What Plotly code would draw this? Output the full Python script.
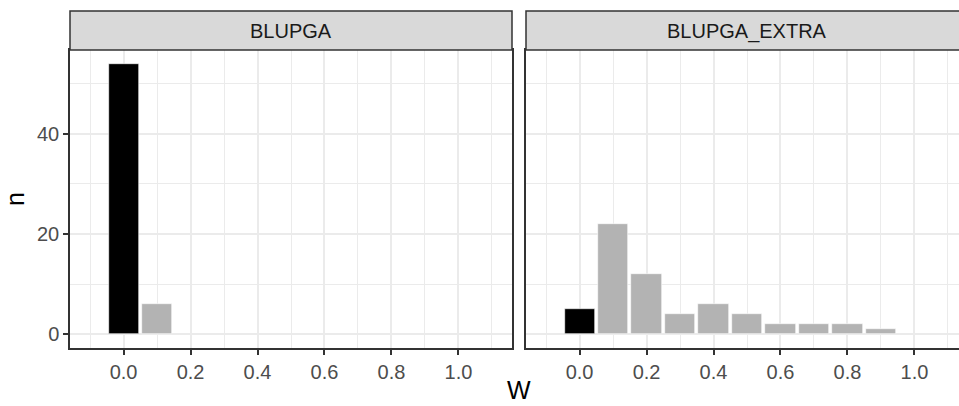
import plotly.graph_objects as go

# ---- data ----
panels = ["BLUPGA", "BLUPGA_EXTRA"]
blupga_w = [0.0, 0.1]
blupga_n = [54, 6]
extra_w = [0.0, 0.1, 0.2, 0.3, 0.4, 0.5, 0.6, 0.7, 0.8, 0.9]
extra_n = [5, 22, 12, 4, 6, 4, 2, 2, 2, 1]
x_ticks = [0.0, 0.2, 0.4, 0.6, 0.8, 1.0]
x_tick_labels = ["0.0", "0.2", "0.4", "0.6", "0.8", "1.0"]
y_ticks = [0, 20, 40]
y_tick_labels = ["0", "20", "40"]

W, H = 959, 406
FONT = "Liberation Sans, Arial, sans-serif"
GRID = "#EBEBEB"
BORDER = "#333333"
GRAY = "#B3B3B3"
TICK_SIZE = 20
TITLE_SIZE = 25


def colors(ws):
    return ["#000000" if w == 0 else GRAY for w in ws]


fig = go.Figure()
fig.add_trace(go.Bar(x=blupga_w, y=blupga_n, width=0.09, marker=dict(color=colors(blupga_w), line=dict(color="#FFFFFF", width=0.6)),
                     xaxis="x", yaxis="y", showlegend=False))
fig.add_trace(go.Bar(x=extra_w, y=extra_n, width=0.09, marker=dict(color=colors(extra_w), line=dict(color="#FFFFFF", width=0.6)),
                     xaxis="x2", yaxis="y2", showlegend=False))

# pixel geometry
L1, R1 = 70, 512
L2 = 526
TOP, BOT = 50, 348
STRIP_TOP = 11


def px(x):
    return x / W


def py(y):
    return (H - y) / H


xrange_ = [-0.16, 1.16]
pxu = (R1 - L1) / (xrange_[1] - xrange_[0])
x2_right = xrange_[0] + (W - L2) / pxu
yrange = [-2.7, 56.7]

common_x = dict(
    tickvals=x_ticks, ticktext=x_tick_labels, showgrid=True, gridcolor=GRID, gridwidth=2,
    zeroline=False, ticks="outside", ticklen=5, tickwidth=1.5, tickcolor=BORDER,
    tickfont=dict(family=FONT, size=TICK_SIZE, color="#4D4D4D"), showline=True, linecolor=BORDER,
    linewidth=1.5, mirror=True,
    minor=dict(tickvals=[-0.1, 0.1, 0.3, 0.5, 0.7, 0.9, 1.1], showgrid=True, gridcolor=GRID, gridwidth=1, ticks=""),
)
common_y = dict(
    range=yrange, showgrid=True, gridcolor=GRID, gridwidth=2, zeroline=False,
    minor=dict(tickvals=[10, 30, 50], showgrid=True, gridcolor=GRID, gridwidth=1, ticks=""),
    showline=True, linecolor=BORDER, linewidth=1.5,
)

fig.update_layout(
    width=W, height=H, margin=dict(l=0, r=0, t=0, b=0),
    paper_bgcolor="white", plot_bgcolor="white", bargap=0,
    xaxis=dict(domain=[px(L1), px(R1)], range=xrange_, anchor="y", **common_x),
    yaxis=dict(domain=[py(BOT), py(TOP)], anchor="x", tickvals=y_ticks, ticktext=y_tick_labels,
               ticks="outside", ticklen=5, tickwidth=1.5, tickcolor=BORDER,
               tickfont=dict(family=FONT, size=TICK_SIZE, color="#4D4D4D"), mirror=True, **common_y),
    xaxis2=dict(domain=[px(L2), 1.0], range=[xrange_[0], x2_right], anchor="y2", **common_x),
    yaxis2=dict(domain=[py(BOT), py(TOP)], anchor="x2", tickvals=y_ticks, showticklabels=False,
                ticks="", mirror=False, **common_y),
)

shapes = []
annotations = []
full_w = R1 - L1
for name, l, r in [(panels[0], L1, R1), (panels[1], L2, W + 10)]:
    shapes.append(dict(type="rect", xref="paper", yref="paper", x0=px(l), x1=px(r),
                       y0=py(TOP), y1=py(STRIP_TOP), fillcolor="#D9D9D9",
                       line=dict(color=BORDER, width=1.5), layer="above"))
    annotations.append(dict(text=name, xref="paper", yref="paper", x=px(l + full_w / 2),
                            y=py((TOP + STRIP_TOP) / 2 + 1), showarrow=False,
                            font=dict(family=FONT, size=TICK_SIZE, color="#1A1A1A"),
                            xanchor="center", yanchor="middle"))

annotations.append(dict(text="n", xref="paper", yref="paper", x=px(15), y=py((TOP + BOT) / 2),
                        showarrow=False, textangle=-90, font=dict(family=FONT, size=TITLE_SIZE, color="#000000"),
                        xanchor="center", yanchor="middle"))
annotations.append(dict(text="W", xref="paper", yref="paper", x=px(519), y=py(405),
                        showarrow=False, font=dict(family=FONT, size=TITLE_SIZE, color="#000000"),
                        xanchor="center", yanchor="bottom", borderpad=0))

fig.update_layout(shapes=shapes, annotations=annotations)
fig.write_html("out.html")
